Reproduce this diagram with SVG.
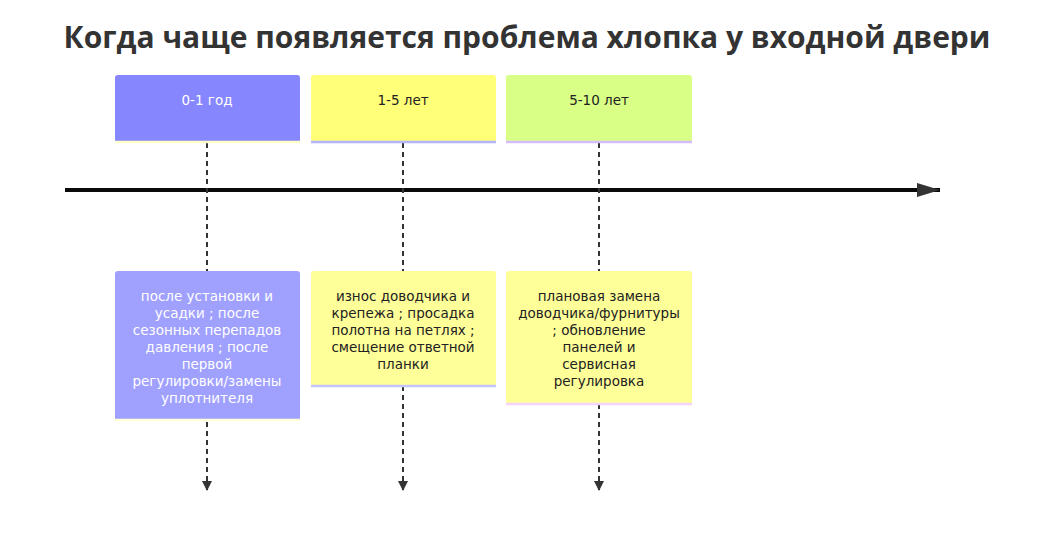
<svg xmlns="http://www.w3.org/2000/svg" width="1042" height="546" viewBox="0 0 1042 546">
<defs>
<marker id="axisArrow" markerWidth="24" markerHeight="14" refX="23" refY="7" orient="auto" markerUnits="userSpaceOnUse">
<path d="M0,0 L23,7 L0,14 Z" fill="#333"/>
</marker>
<marker id="dashArrow" markerWidth="10" markerHeight="10" refX="9" refY="5" orient="auto" markerUnits="userSpaceOnUse">
<path d="M0,0 L10,5 L0,10 Z" fill="#333"/>
</marker>
</defs>
<style>
.title{font-family:"Open Sans","DejaVu Sans",sans-serif;font-weight:bold;font-size:30px;fill:#333;}
.lbl{font-family:"DejaVu Sans","Open Sans",sans-serif;font-size:13.5px;text-anchor:middle;dominant-baseline:central;}
.w{fill:#ffffff;}
.d{fill:#222;}
.dash{stroke:#333;stroke-width:2;stroke-dasharray:5,4;fill:none;}
</style>
<rect width="1042" height="546" fill="#ffffff"/>
<text class="title" x="527" y="48" text-anchor="middle">Когда чаще появляется проблема хлопка у входной двери</text>
<g id="connectors">
<line x1="65" y1="190" x2="940" y2="190" stroke="#0a0a0a" stroke-width="4" marker-end="url(#axisArrow)"/>
<line class="dash" x1="207" y1="143" x2="207" y2="490" marker-end="url(#dashArrow)"/>
<line class="dash" x1="403" y1="143" x2="403" y2="490" marker-end="url(#dashArrow)"/>
<line class="dash" x1="599" y1="143" x2="599" y2="490" marker-end="url(#dashArrow)"/>
</g>
<g id="period1">
<path d="M115,141 V78 Q115,75 118,75 H297 Q300,75 300,78 V141 Z" fill="#8686ff"/>
<line x1="115" y1="142" x2="300" y2="142" stroke="#ffffc8" stroke-width="2.5"/>
<text class="lbl w" x="207" y="100">0-1 год</text>
</g>
<g id="period2">
<path d="M311,141 V78 Q311,75 314,75 H493 Q496,75 496,78 V141 Z" fill="#ffff78"/>
<line x1="311" y1="142" x2="496" y2="142" stroke="#b4b4ff" stroke-width="2.5"/>
<text class="lbl d" x="403" y="100">1-5 лет</text>
</g>
<g id="period3">
<path d="M506,141 V78 Q506,75 509,75 H689 Q692,75 692,78 V141 Z" fill="#d9ff86"/>
<line x1="506" y1="142" x2="692" y2="142" stroke="#d4bcff" stroke-width="2.5"/>
<text class="lbl d" x="599" y="100">5-10 лет</text>
</g>
<g id="event1">
<path d="M115,419 V274 Q115,271 118,271 H297 Q300,271 300,274 V419 Z" fill="#a0a0ff"/>
<line x1="115" y1="420" x2="300" y2="420" stroke="#ffffd8" stroke-width="2.5"/>
<text class="lbl w" x="207" y="296">после установки и</text>
<text class="lbl w" x="207" y="313">усадки ; после</text>
<text class="lbl w" x="207" y="330">сезонных перепадов</text>
<text class="lbl w" x="207" y="347">давления ; после</text>
<text class="lbl w" x="207" y="364">первой</text>
<text class="lbl w" x="207" y="381">регулировки/замены</text>
<text class="lbl w" x="207" y="398">уплотнителя</text>
</g>
<g id="event2">
<path d="M311,385 V274 Q311,271 314,271 H493 Q496,271 496,274 V385 Z" fill="#ffff99"/>
<line x1="311" y1="386" x2="496" y2="386" stroke="#c4c4ff" stroke-width="2.5"/>
<text class="lbl d" x="403" y="296">износ доводчика и</text>
<text class="lbl d" x="403" y="313">крепежа ; просадка</text>
<text class="lbl d" x="403" y="330">полотна на петлях ;</text>
<text class="lbl d" x="403" y="347">смещение ответной</text>
<text class="lbl d" x="403" y="364">планки</text>
</g>
<g id="event3">
<path d="M506,403 V274 Q506,271 509,271 H689 Q692,271 692,274 V403 Z" fill="#ffff99"/>
<line x1="506" y1="404" x2="692" y2="404" stroke="#f4d4ff" stroke-width="2.5"/>
<text class="lbl d" x="599" y="296">плановая замена</text>
<text class="lbl d" x="599" y="313">доводчика/фурнитуры</text>
<text class="lbl d" x="599" y="330">; обновление</text>
<text class="lbl d" x="599" y="347">панелей и</text>
<text class="lbl d" x="599" y="364">сервисная</text>
<text class="lbl d" x="599" y="381">регулировка</text>
</g>
</svg>
